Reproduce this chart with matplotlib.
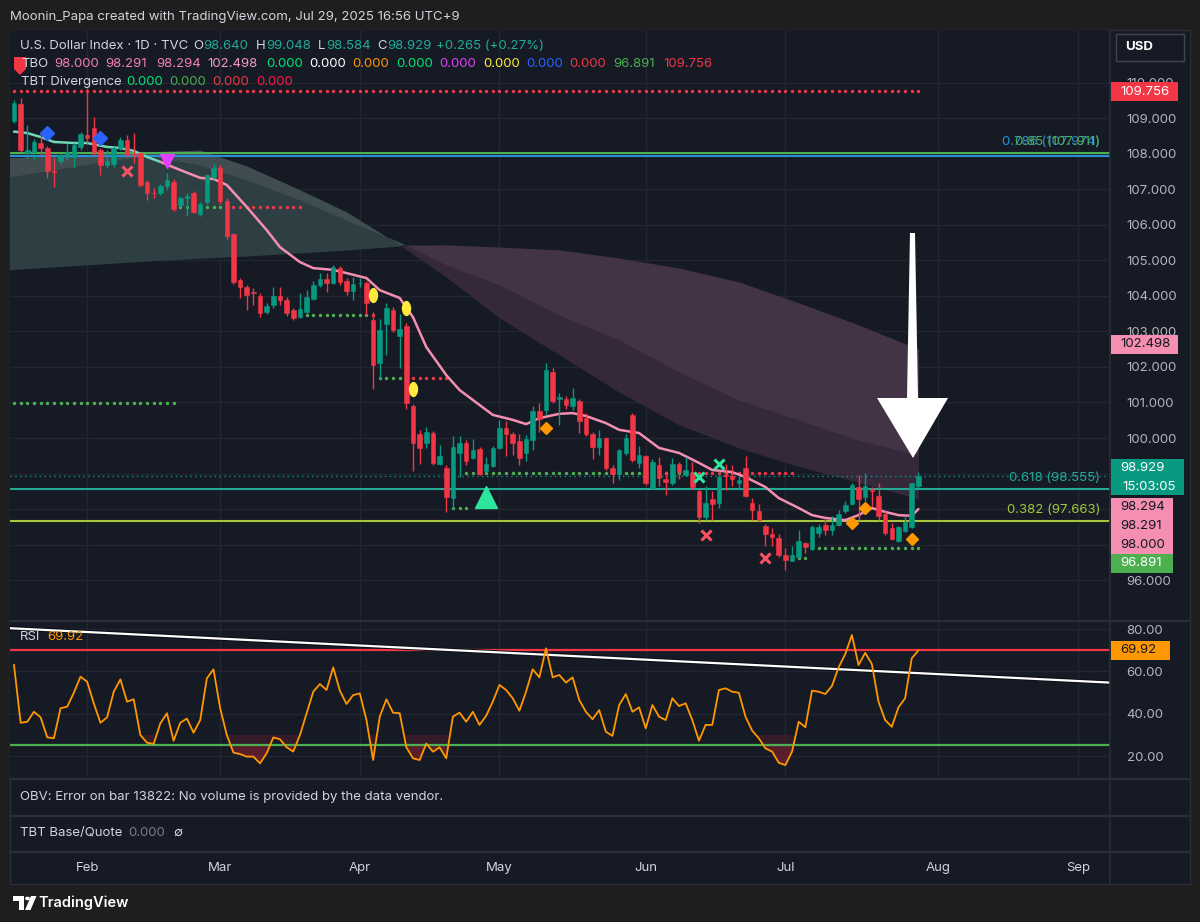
import matplotlib
matplotlib.use("Agg")
import matplotlib.pyplot as plt
import matplotlib.patheffects as pe
from matplotlib.patches import Rectangle, Polygon, Circle
from matplotlib.lines import Line2D
from matplotlib.path import Path
import numpy as np
import pandas as pd

# ---------------- data ----------------
# daily candles, Jan 17 2025 .. Jul 29 2025 (no Good Friday bar)
opens = [108.91, 109.40, 108.01, 108.05, 108.29, 108.15, 107.51, 107.78, 107.91, 107.91,
         108.20, 108.53, 108.72, 108.10, 107.68, 107.72, 108.15, 108.39, 108.00, 108.01,
         107.21, 106.90, 106.89, 107.10, 107.20, 106.56, 106.75, 106.88, 106.30, 106.64,
         107.33, 107.61, 106.68, 105.74, 104.45, 104.26, 104.11, 104.00, 103.55, 103.74,
         104.00, 103.89, 103.60, 103.41, 103.55, 103.90, 104.30, 104.47, 104.37, 104.78,
         104.43, 104.14, 104.35, 104.35, 103.33, 102.10, 103.21, 103.59, 102.87, 103.16,
         100.91, 100.11, 99.87, 100.15, 99.28, 99.15, 98.31, 99.58, 99.86, 99.45,
         99.69, 99.08, 99.22, 99.73, 100.29, 100.10, 99.92, 99.58, 99.95, 100.77,
         100.79, 101.87, 101.11, 101.11, 100.89, 101.05, 100.56, 100.10, 99.74, 100.00,
         99.15, 98.98, 99.58, 100.65, 99.30, 99.48, 98.59, 99.25, 98.86, 98.74,
         99.27, 98.97, 99.02, 98.50, 97.79, 98.28, 98.18, 98.96, 98.94, 98.72,
         99.16, 98.18, 97.94, 97.51, 97.30, 97.19, 96.71, 96.55, 96.64, 97.05,
         96.88, 97.33, 97.54, 97.40, 97.56, 97.94, 98.15, 98.63, 98.35, 98.54,
         98.37, 97.87, 97.46, 97.11, 97.39, 97.49, 98.640]
highs = [109.50, 109.57, 108.81, 108.41, 108.53, 108.21, 107.88, 108.02, 108.29, 108.31,
         108.61, 109.86, 109.04, 108.16, 108.11, 108.21, 108.48, 108.53, 108.58, 108.06,
         107.27, 107.03, 107.15, 107.46, 107.28, 106.82, 106.89, 106.94, 106.64, 107.43,
         107.71, 107.67, 106.74, 105.77, 104.51, 104.31, 104.21, 104.07, 103.79, 104.26,
         104.24, 103.97, 103.67, 104.07, 104.16, 104.41, 104.64, 104.64, 104.86, 104.84,
         104.51, 104.54, 104.50, 104.41, 103.54, 103.35, 103.79, 103.68, 103.50, 103.23,
         100.95, 100.22, 100.31, 100.21, 99.81, 99.23, 100.05, 100.05, 99.95, 99.98,
         99.74, 99.46, 99.77, 100.51, 100.47, 100.17, 100.11, 100.09, 100.89, 100.98,
         102.11, 101.97, 101.26, 101.19, 101.41, 101.11, 100.70, 100.16, 100.22, 100.04,
         99.23, 99.69, 100.12, 100.71, 99.77, 99.53, 99.40, 99.46, 99.07, 99.44,
         99.33, 99.46, 99.33, 98.57, 98.64, 98.50, 99.07, 99.26, 99.24, 98.94,
         99.50, 98.31, 98.13, 97.59, 97.47, 97.30, 96.90, 96.96, 97.42, 97.08,
         97.54, 97.58, 97.76, 97.81, 97.97, 98.22, 98.74, 98.97, 99.02, 98.61,
         98.72, 97.94, 97.60, 97.53, 97.80, 98.74, 99.048]
lows = [108.86, 108.06, 107.87, 107.86, 107.96, 107.31, 107.07, 107.72, 107.82, 107.59,
        108.11, 108.31, 107.96, 107.40, 107.59, 107.62, 108.11, 107.91, 107.73, 107.07,
        106.70, 106.75, 106.83, 106.99, 106.38, 106.49, 106.26, 106.32, 106.24, 106.59,
        107.28, 106.59, 105.60, 104.34, 103.94, 103.60, 103.74, 103.40, 103.48, 103.67,
        103.74, 103.43, 103.33, 103.38, 103.52, 103.87, 104.26, 104.11, 104.34, 104.31,
        104.02, 103.88, 104.26, 103.45, 101.39, 101.68, 102.33, 102.98, 101.96, 100.83,
        99.06, 99.28, 99.72, 99.23, 99.23, 97.93, 98.02, 98.91, 99.25, 99.42,
        98.96, 99.03, 99.18, 99.68, 99.48, 99.53, 99.25, 99.36, 99.67, 100.18,
        100.65, 100.99, 100.37, 100.83, 100.80, 100.13, 100.06, 99.42, 99.53, 99.11,
        98.74, 98.83, 99.53, 99.33, 99.16, 98.69, 98.56, 98.64, 98.40, 98.69,
        98.86, 98.94, 98.56, 97.61, 97.70, 97.70, 98.04, 98.54, 98.64, 98.58,
        98.34, 97.70, 97.67, 96.95, 96.96, 96.66, 96.29, 96.53, 96.61, 96.76,
        96.84, 97.21, 97.28, 97.28, 97.51, 97.90, 98.12, 97.70, 98.24, 98.10,
        97.70, 97.27, 97.13, 97.08, 97.35, 97.46, 98.584]
closes = [109.42, 108.10, 108.10, 108.32, 108.15, 107.51, 107.49, 107.97, 108.05, 108.24,
          108.55, 108.44, 108.05, 107.68, 107.78, 108.15, 108.39, 107.96, 107.97, 107.13,
          106.89, 106.88, 107.10, 107.25, 106.44, 106.75, 106.82, 106.37, 106.59, 107.39,
          107.61, 106.66, 105.67, 104.40, 104.26, 104.02, 104.07, 103.53, 103.72, 104.00,
          103.87, 103.53, 103.38, 103.62, 103.96, 104.30, 104.47, 104.35, 104.81, 104.40,
          104.14, 104.33, 104.37, 103.80, 102.06, 103.05, 103.66, 103.04, 103.06, 100.99,
          99.85, 99.71, 100.18, 99.31, 99.48, 98.34, 99.74, 99.86, 99.34, 99.67,
          98.98, 99.27, 99.73, 100.27, 100.10, 99.85, 99.45, 99.98, 100.77, 100.54,
          101.92, 101.03, 101.14, 100.92, 101.13, 100.48, 100.10, 99.76, 100.00, 99.15,
          98.98, 99.65, 100.00, 99.39, 99.53, 98.74, 99.32, 98.88, 98.76, 99.27,
          99.04, 99.10, 98.61, 97.79, 98.17, 98.15, 98.91, 98.94, 98.85, 98.83,
          98.37, 97.98, 97.70, 97.30, 97.21, 96.71, 96.57, 96.71, 97.09, 96.93,
          97.50, 97.50, 97.42, 97.56, 97.87, 98.12, 98.69, 98.29, 98.66, 98.52,
          97.81, 97.34, 97.15, 97.49, 97.64, 98.72, 98.929]

rsi = [63.0, 35.7, 36.2, 40.9, 38.3, 28.8, 28.4, 42.6, 43.3, 49.9,
       57.5, 55.1, 44.9, 35.7, 38.3, 50.4, 56.2, 45.7, 46.8, 29.9,
       26.3, 25.7, 35.4, 40.2, 27.2, 35.7, 37.7, 31.0, 37.0, 56.7,
       61.0, 42.6, 29.9, 21.6, 20.9, 19.7, 19.7, 16.5, 21.3, 28.8,
       27.9, 24.1, 22.1, 29.9, 40.2, 50.4, 54.0, 51.2, 61.9, 50.9,
       44.6, 48.8, 49.6, 37.0, 18.1, 38.6, 46.8, 40.5, 40.2, 24.1,
       18.9, 18.1, 25.9, 22.0, 24.1, 18.9, 38.6, 40.5, 36.2, 40.9,
       34.7, 39.0, 45.7, 53.6, 51.2, 47.3, 41.4, 50.4, 61.0, 57.2,
       70.9, 57.2, 58.3, 54.7, 57.2, 46.5, 40.9, 37.4, 41.7, 31.5,
       29.5, 44.1, 49.3, 40.9, 43.0, 33.1, 44.1, 38.6, 37.0, 47.3,
       43.6, 44.9, 37.0, 27.2, 34.7, 34.7, 51.2, 52.0, 50.4, 49.9,
       38.6, 32.0, 28.4, 23.6, 22.1, 16.8, 15.7, 22.1, 36.2, 33.6,
       50.9, 50.4, 49.3, 53.1, 61.9, 68.2, 77.2, 63.0, 68.8, 63.5,
       45.7, 37.0, 33.8, 43.0, 47.3, 66.2, 69.92]
rsi_trend_x = [-0.5, 164.8]
rsi_trend_y = [80.4, 54.7]

# TBO fast line (teal until it turns, pink after)
fast_idx = [0, 2, 4, 6, 9, 11, 14, 16, 18, 20, 22, 25, 28, 30, 32, 35, 38, 40, 43, 45,
            48, 50, 53, 55, 58, 60, 62, 65, 67, 70, 72, 75, 77, 79, 82, 84, 86, 89, 91, 94,
            95, 97, 100, 103, 105, 108, 110, 113, 115, 118, 120, 122, 125, 127, 129, 131, 133, 135, 136]
fast_val = [108.62, 108.58, 108.47, 108.33, 108.30, 108.30, 108.19, 108.16, 108.08, 107.91,
            107.77, 107.54, 107.32, 107.29, 107.12, 106.50, 105.85, 105.37, 104.95, 104.78,
            104.73, 104.64, 104.50, 104.16, 103.94, 103.40, 102.56, 101.77, 101.35, 100.93,
            100.65, 100.51, 100.39, 100.56, 100.68, 100.70, 100.62, 100.42, 100.23, 100.14,
            100.00, 99.72, 99.58, 99.30, 99.10, 99.04, 98.90, 98.62, 98.31, 98.03,
            97.83, 97.75, 97.69, 97.83, 98.03, 97.92, 97.83, 97.81, 98.00]
fast_turn = 22

# TBO cloud edges
cloud_idx = [-1, 20, 28, 35, 43, 50, 58, 65, 73, 82, 91, 100, 109, 118, 127, 136]
cloud_fast = [107.88, 108.05, 108.10, 107.65, 106.98, 106.36, 105.43, 104.53, 103.38, 102.34,
              101.29, 100.37, 99.72, 99.20, 98.75, 98.29]
cloud_slow = [104.73, 104.98, 105.06, 105.12, 105.21, 105.29, 105.40, 105.43, 105.37, 105.29,
              105.06, 104.78, 104.39, 103.80, 103.18, 102.50]
cloud_mid = [107.34, 107.96, 107.68, 107.26, 106.70, 106.13, 105.51, 104.87, 104.31, 103.46,
             102.76, 101.86, 101.07, 100.51, 99.94, 99.52]

# dotted support / resistance levels
lvl_start = [0, 0, 25, 32, 44, 54, 55, 59, 66, 68, 103, 118, 120]
lvl_end = [136, 24, 31, 43, 53, 54, 58, 65, 68, 102, 117, 119, 136]
lvl_price = [109.756, 100.98, 106.50, 106.50, 103.46, 103.46, 101.68, 101.68, 98.02, 99.01, 99.01, 96.61, 96.891]
lvl_side = ["sell", "buy", "buy", "sell", "buy", "sell", "buy", "sell", "buy", "buy", "sell", "buy", "buy"]

# signal markers
blue_dia_x, blue_dia_y = [5, 13], [108.58, 108.44]
mag_tri_x, mag_tri_y = [23], [107.79]
sell_x_x, sell_x_y = [17, 104, 113], [107.51, 97.27, 96.62]
buy_x_x, buy_x_y = [103, 106], [98.90, 99.27]
drop_x, drop_y = [54, 59, 60], [104.02, 103.66, 101.38]
up_tri_x, up_tri_y = [71], [98.34]
org_dia_x, org_dia_y = [80, 126, 128, 135], [100.28, 97.60, 98.03, 97.16]

# fib levels (blue drawn first, green sits just above it)
fib_val = [107.93, 108.01, 98.555, 97.663]
fib_text = ["0.786 (107.974)", "0.85 (107.911)", "0.618 (98.555)", "0.382 (97.663)"]
fib_color = ["#2a8fd6", "#4caf50", "#22ab94", "#a5c63b"]

tbo_vals = ["98.000", "98.291", "98.294", "102.498", "0.000", "0.000", "0.000", "0.000",
            "0.000", "0.000", "0.000", "0.000", "96.891", "109.756"]
tbo_cols = ["#f47fae", "#f47fae", "#f47fae", "#f49ac1", "#00e676", "#ffffff", "#ff9800", "#00e676",
            "#e040fb", "#ffeb3b", "#2962ff", "#f23645", "#4caf50", "#f23645"]
div_vals = ["0.000", "0.000", "0.000", "0.000"]
div_cols = ["#00e676", "#4caf50", "#f23645", "#ff1744"]

dates = pd.bdate_range("2025-01-17", "2025-09-30")
dates = dates[dates != pd.Timestamp("2025-04-18")]

# ---------------- layout / style ----------------
W, H = 1200, 922
BG = "#1e1e1e"
PANEL = "#161a25"
GRID = "#222631"
SEP = "#2a2e39"
TXT = "#d1d4dc"
AXT = "#b2b5be"
UP = "#089981"
DN = "#f23645"

plt.rcParams["font.family"] = ["Inter", "DejaVu Sans"]
FS = 9.5


def fx(x):
    return x / W


def fy(y):
    return 1 - y / H


def bar_at(xp):
    return (xp - 14) / 6.65


def price_at(yp):
    return 100 + (438 - yp) / 35.54


def rsi_at(yp):
    return 20 + (756 - yp) / 2.115


fig = plt.figure(figsize=(W / 100, H / 100), dpi=100, facecolor=BG)
fig.add_artist(Rectangle((fx(10), fy(884)), fx(1190) - fx(10), fy(30) - fy(884),
                         transform=fig.transFigure, facecolor=PANEL, edgecolor=SEP, lw=1, zorder=-5))

n = len(closes)
xs = np.arange(n)
month_pos = [i for i in range(1, len(dates)) if dates[i].month != dates[i - 1].month]
month_lab = [dates[i].strftime("%b") for i in month_pos]
xlim = (bar_at(10), bar_at(1110))

# ---------------- main pane ----------------
ax = fig.add_axes([fx(10), fy(620), fx(1110) - fx(10), fy(30) - fy(620)])
ax.set_facecolor(PANEL)
ax.set_xlim(*xlim)
ax.set_ylim(price_at(620), price_at(30))
for s in ax.spines.values():
    s.set_visible(False)
ax.set_xticks(month_pos)
yt = np.arange(96, 111)
ax.set_yticks(yt)
# 97-99 sit behind the price tags on the axis, TradingView hides them
ax.set_yticklabels(["" if v in (97, 98, 99) else f"{v:.3f}" for v in yt])
ax.yaxis.tick_right()
ax.tick_params(axis="y", length=0, pad=12, labelsize=FS, labelcolor=AXT)
ax.tick_params(axis="x", length=0, labelbottom=False)
ax.grid(color=GRID, lw=1)
ax.set_axisbelow(True)

# cloud
ci = np.array(cloud_idx)
cf, cs, cm = np.array(cloud_fast), np.array(cloud_slow), np.array(cloud_mid)
ax.fill_between(ci, cf, cs, where=cf >= cs, interpolate=True, color="#2d3f42", lw=0, zorder=1)
ax.fill_between(ci, cf, cs, where=cf < cs, interpolate=True, color="#35283b", lw=0, zorder=1)
top = np.maximum(cf, cs)
ax.fill_between(ci, cm, top, where=cf >= cs, interpolate=True, color="#3f4d50", lw=0, zorder=1.1)
ax.fill_between(ci, cm, top, where=cf < cs, interpolate=True, color="#433346", lw=0, zorder=1.1)

# horizontal levels; the two top fib labels are printed on top of each other as in TradingView
ax.axhline(closes[-1], color=UP, lw=1, ls=(0, (1, 2.5)), zorder=2)
label_at = [108.01, 108.01, 98.555, 97.663]
for v, ly, t, c in zip(fib_val, label_at, fib_text, fib_color):
    ax.axhline(v, color=c, lw=1.5, zorder=2)
    ax.annotate(t, xy=(0.991, ly), xycoords=ax.get_yaxis_transform(), xytext=(0, 4),
                textcoords="offset points", ha="right", va="bottom", color=c, fontsize=FS, zorder=3)

for s, e, p, side in zip(lvl_start, lvl_end, lvl_price, lvl_side):
    xx = np.arange(s, e + 1)
    ax.scatter(xx, np.full(len(xx), p), s=6, lw=0,
               color="#4caf50" if side == "buy" else "#f23645", zorder=3)

# fast line
k = fast_idx.index(fast_turn)
ax.plot(fast_idx[:k + 1], fast_val[:k + 1], color="#72d8b8", lw=1.8, zorder=4, solid_capstyle="round")
ax.plot(fast_idx[k:], fast_val[k:], color="#f48fb1", lw=1.8, zorder=4, solid_capstyle="round")

# candles
o, h, l, c = map(np.array, (opens, highs, lows, closes))
col = np.where(c >= o, UP, DN)
ax.vlines(xs, l, h, colors=col, lw=1, zorder=5)
ax.bar(xs, np.maximum(np.abs(c - o), 0.025), bottom=np.minimum(o, c), width=0.68,
       color=col, edgecolor=col, lw=0.4, zorder=6)

# signals
t = np.linspace(0, 2 * np.pi, 40)
drop = Path(np.column_stack([0.72 * np.cos(t), np.sin(t) + 0.25 * np.sin(t) ** 2 * np.sign(np.sin(t))]))
ax.plot(blue_dia_x, blue_dia_y, "D", color="#2962ff", ms=7, zorder=7, ls="none")
ax.plot(mag_tri_x, mag_tri_y, "v", color="#e040fb", ms=10, zorder=7, ls="none")
ax.plot(sell_x_x, sell_x_y, "x", color="#f7525f", ms=7, mew=2.2, zorder=7, ls="none")
ax.plot(buy_x_x, buy_x_y, "x", color="#2ee59d", ms=7, mew=2.2, zorder=7, ls="none")
ax.plot(drop_x, drop_y, marker=drop, color="#ffeb3b", ms=10, zorder=7, ls="none")
ax.plot(up_tri_x, up_tri_y, "^", color="#2ee59d", ms=16, zorder=7, ls="none")
ax.plot(org_dia_x, org_dia_y, "D", color="#ff9800", ms=6.5, zorder=7, ls="none")

# ---------------- RSI pane ----------------
rax = fig.add_axes([fx(10), fy(778), fx(1110) - fx(10), fy(622) - fy(778)])
rax.set_facecolor(PANEL)
rax.set_xlim(*xlim)
rax.set_ylim(rsi_at(778), rsi_at(622))
for s in rax.spines.values():
    s.set_visible(False)
rax.set_xticks(month_pos)
rax.set_yticks([20, 40, 60, 80])
rax.set_yticklabels(["20.00", "40.00", "60.00", "80.00"])
rax.yaxis.tick_right()
rax.tick_params(axis="y", length=0, pad=12, labelsize=FS, labelcolor=AXT)
rax.tick_params(axis="x", length=0, labelbottom=False)
rax.grid(color=GRID, lw=1)
rax.set_axisbelow(True)
r = np.array(rsi)
rax.fill_between(xs, r, 30, where=r < 30, interpolate=True, color="#5a1e2a", alpha=0.45, lw=0, zorder=1)
rax.fill_between(xs, r, 25, where=r < 25, interpolate=True, color="#7a2230", alpha=0.55, lw=0, zorder=1)
rax.axhline(70, color="#f23645", lw=1.6, zorder=2)
rax.axhline(25, color="#4caf50", lw=1.6, zorder=2)
rax.plot(rsi_trend_x, rsi_trend_y, color="white", lw=1.6, zorder=3,
         path_effects=[pe.Stroke(linewidth=3, foreground="#0b0d12"), pe.Normal()])
rax.plot(xs, r, color="#ff9800", lw=1.3, zorder=4)

# ---------------- time strip ----------------
tax = fig.add_axes([fx(10), fy(883), fx(1110) - fx(10), fy(853) - fy(883)])
tax.set_xlim(*xlim)
tax.axis("off")
for p, m in zip(month_pos, month_lab):
    tax.text(p, 0.5, m, transform=tax.get_xaxis_transform(), ha="center", va="center",
             color=TXT, fontsize=FS)

# ---------------- separators ----------------
for yy in (621, 779, 816, 852):
    fig.add_artist(Line2D([fx(10), fx(1190)], [fy(yy), fy(yy)], transform=fig.transFigure,
                          color=SEP, lw=1.6, zorder=9))
fig.add_artist(Line2D([fx(1110), fx(1110)], [fy(30), fy(884)], transform=fig.transFigure,
                      color=SEP, lw=1.2, zorder=9))


def tag(yc, text, fc, tc, h=19, x1=1178):
    fig.add_artist(Rectangle((fx(1111), fy(yc + h / 2)), fx(x1) - fx(1111), h / H,
                             transform=fig.transFigure, facecolor=fc, edgecolor="none", zorder=10))
    fig.text(fx(1120), fy(yc), text, color=tc, fontsize=FS, va="center", ha="left", zorder=11)


tag(92, "109.756", "#f23645", "white")
tag(344, "102.498", "#f48fb1", "#131722")
fig.add_artist(Rectangle((fx(1111), fy(495)), fx(1184) - fx(1111), 36 / H,
                         transform=fig.transFigure, facecolor=UP, edgecolor="none", zorder=10))
fig.text(fx(1120), fy(468), f"{closes[-1]:.3f}", color="white", fontsize=FS, va="center", zorder=11)
fig.text(fx(1122), fy(487), "15:03:05", color="white", fontsize=FS, va="center", zorder=11)
tag(507, "98.294", "#f48fb1", "#131722", x1=1173)
tag(526, "98.291", "#f48fb1", "#131722", x1=1173)
tag(545, "98.000", "#f48fb1", "#131722", x1=1173)
tag(563, "96.891", "#4caf50", "white", x1=1173)
tag(650, f"{rsi[-1]:.2f}", "#ff9800", "#131722", x1=1170)

# USD box
fig.add_artist(Rectangle((fx(1116), fy(61)), fx(1184) - fx(1116), 27 / H, transform=fig.transFigure,
                         facecolor=PANEL, edgecolor="#434651", lw=1, zorder=10))
fig.text(fx(1125), fy(47), "USD", color="white", fontsize=FS, fontweight="bold", va="center", zorder=11)

# ---------------- texts ----------------
fig.text(fx(10), fy(17), "Moonin_Papa created with TradingView.com, Jul 29, 2025 16:56 UTC+9",
         color=TXT, fontsize=FS, va="center")
fig.text(fx(20), fy(46), "U.S. Dollar Index · 1D · TVC", color=TXT, fontsize=FS, va="center")
TEAL = "#22ab94"
for lx, lab, vx, val in [(193, "O", 203, opens[-1]), (256, "H", 266, highs[-1]),
                         (318, "L", 326, lows[-1]), (377, "C", 387, closes[-1])]:
    fig.text(fx(lx), fy(46), lab, color=TXT, fontsize=FS, va="center")
    fig.text(fx(vx), fy(46), f"{val:.3f}", color=TEAL, fontsize=FS, va="center")
fig.text(fx(436), fy(46), "+0.265 (+0.27%)", color=TEAL, fontsize=FS, va="center")

fig.add_artist(Polygon([(fx(14), fy(57)), (fx(26), fy(57)), (fx(26), fy(69)), (fx(20), fy(75)), (fx(14), fy(69))],
                       closed=True, transform=fig.transFigure, facecolor="#f23645", edgecolor="none", zorder=5))
fig.text(fx(21), fy(64), "TBO", color=TXT, fontsize=FS, va="center", zorder=6)
tbo_x = [54, 105, 156, 207, 266, 309, 352, 396, 439, 483, 526, 569, 613, 663]
for xx, v, cc in zip(tbo_x, tbo_vals, tbo_cols):
    fig.text(fx(xx), fy(64), v, color=cc, fontsize=FS, va="center")
fig.text(fx(21), fy(82), "TBT Divergence", color=TXT, fontsize=FS, va="center")
for xx, v, cc in zip([126, 169, 212, 256], div_vals, div_cols):
    fig.text(fx(xx), fy(82), v, color=cc, fontsize=FS, va="center")

fig.text(fx(20), fy(637), "RSI", color=TXT, fontsize=FS, va="center", zorder=12)
fig.text(fx(47), fy(637), f"{rsi[-1]:.2f}", color="#ff9800", fontsize=FS, va="center", zorder=12)

fig.text(fx(20), fy(797), "OBV: Error on bar 13822: No volume is provided by the data vendor.",
         color=TXT, fontsize=FS, va="center")
fig.text(fx(20), fy(833), "TBT Base/Quote", color=TXT, fontsize=FS, va="center")
fig.text(fx(128), fy(833), "0.000", color="#787b86", fontsize=FS, va="center")
fig.text(fx(173), fy(833), "\u2205", color=TXT, fontsize=FS, va="center")

# white arrow drawn on the chart
arrow = [(910, 233), (915, 233), (918, 398), (948, 398), (913, 458), (877, 398), (907, 398)]
fig.add_artist(Polygon([(fx(a), fy(b)) for a, b in arrow], closed=True, transform=fig.transFigure,
                       facecolor="white", edgecolor="none", zorder=8))

# TradingView footer logo
logo = [(13, 896), (24, 896), (24, 910), (19, 910), (19, 901), (13, 901)]
fig.add_artist(Polygon([(fx(a), fy(b)) for a, b in logo], closed=True, transform=fig.transFigure,
                       facecolor="white", edgecolor="none"))
fig.add_artist(Circle((fx(27.5), fy(898.5)), 2.4 / W, transform=fig.transFigure, facecolor="white"))
slash = [(31, 896), (36.5, 896), (30.5, 910), (25, 910)]
fig.add_artist(Polygon([(fx(a), fy(b)) for a, b in slash], closed=True, transform=fig.transFigure,
                       facecolor="white", edgecolor="none"))
fig.text(fx(38), fy(903), "TradingView", color="white", fontsize=10.5, fontweight="semibold", va="center")

fig.savefig("out.png", dpi=100, facecolor=BG)
